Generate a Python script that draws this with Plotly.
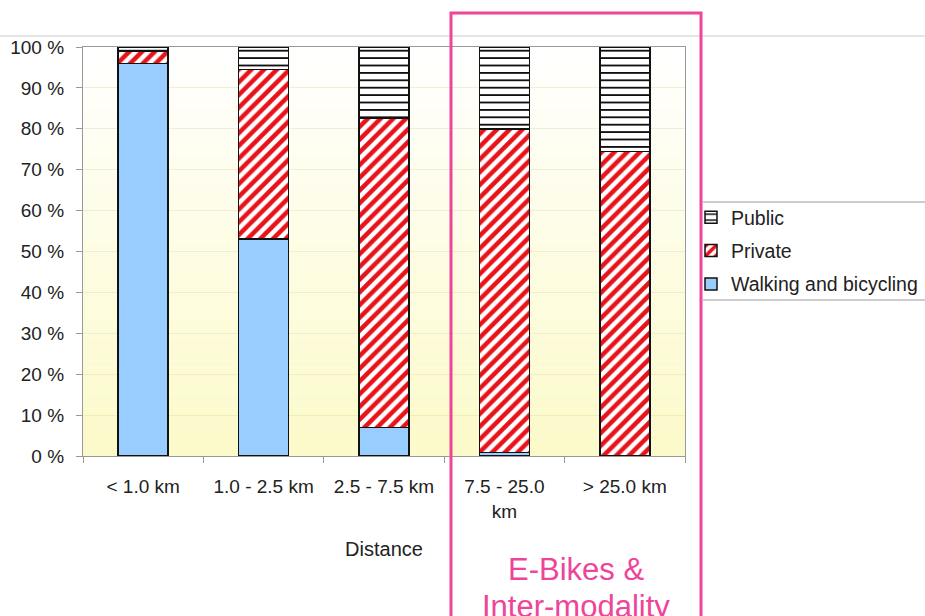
import plotly.graph_objects as go

# Share of trips by mode for each distance band (percent)
distances = ["< 1.0 km", "1.0 - 2.5 km", "2.5 - 7.5 km", "7.5 - 25.0<br>km", "> 25.0 km"]
walking = [96.0, 53.0, 7.0, 0.8, 0.0]
private = [3.0, 41.5, 75.5, 79.2, 74.5]
public = [1.0, 5.5, 17.5, 20.0, 25.5]

W, H = 925, 616
ML, MR, MT, MB = 83, 240, 47, 160
PW, PH = W - ML - MR, H - MT - MB


def px(x):
    return (x - ML) / PW


def py(y):
    return (H - MB - y) / PH


FONT = "Liberation Sans, Arial, Helvetica, sans-serif"
TXT = "#222222"
PINK = "#ee4499"

fig = go.Figure()

fig.add_bar(
    x=distances, y=walking, name="Walking and bicycling",
    legendgroup="w", legendrank=3,
    marker=dict(color="#99ccff", line=dict(color="#111111", width=1.5)),
)
fig.add_bar(
    x=distances, y=private, name="Private",
    legendgroup="p", legendrank=2,
    marker=dict(
        color="#ffffff",
        line=dict(color="#111111", width=1.5),
        pattern=dict(shape="/", fgcolor="#e8121a", bgcolor="#ffffff",
                     size=9, solidity=0.5, fillmode="replace"),
    ),
)
fig.add_bar(
    x=distances, y=public, name="Public",
    legendgroup="u", legendrank=1,
    marker=dict(
        color="#ffffff",
        line=dict(color="#111111", width=1.5),
        pattern=dict(shape="-", fgcolor="#111111", bgcolor="#ffffff",
                     size=7.4, solidity=0.25, fillmode="replace"),
    ),
)

shapes = []
# soft white-to-cream gradient behind the bars
N = 60
c0 = (255, 255, 255)
c1 = (252, 250, 200)
for i in range(N):
    t = (i + 0.5) / N
    r = round(c0[0] + (c1[0] - c0[0]) * t)
    g = round(c0[1] + (c1[1] - c0[1]) * t)
    b = round(c0[2] + (c1[2] - c0[2]) * t)
    shapes.append(dict(
        type="rect", xref="paper", yref="paper", layer="below",
        x0=0, x1=1, y0=1 - (i + 1) / N, y1=1 - i / N,
        fillcolor=f"rgb({r},{g},{b})", line=dict(width=0),
    ))

# thin rule across the top of the slide
shapes.append(dict(type="line", xref="paper", yref="paper",
                   x0=px(0), x1=px(W), y0=py(36), y1=py(36),
                   line=dict(color="#cccccc", width=1.2)))
# legend frame rules
for yy in (202, 300):
    shapes.append(dict(type="line", xref="paper", yref="paper",
                       x0=px(703), x1=px(W), y0=py(yy), y1=py(yy),
                       line=dict(color="#bbbbbb", width=1.5)))
# highlight box around the long-distance bands
shapes.append(dict(type="rect", xref="paper", yref="paper",
                   x0=px(451), x1=px(701), y0=py(640), y1=py(13),
                   line=dict(color=PINK, width=3), fillcolor="rgba(0,0,0,0)"))

annotations = [
    dict(text="E-Bikes &", xref="paper", yref="paper", x=px(576), y=py(569),
         xanchor="center", yanchor="middle", showarrow=False,
         font=dict(family=FONT, size=31, color=PINK)),
    dict(text="Inter-modality", xref="paper", yref="paper", x=px(576), y=py(606),
         xanchor="center", yanchor="middle", showarrow=False,
         font=dict(family=FONT, size=31, color=PINK)),
]

fig.update_layout(
    width=W, height=H,
    margin=dict(l=ML, r=MR, t=MT, b=MB, pad=0, autoexpand=False),
    barmode="stack",
    bargap=0.585,
    paper_bgcolor="#ffffff",
    plot_bgcolor="#ffffff",
    font=dict(family=FONT, size=19, color=TXT),
    shapes=shapes,
    annotations=annotations,
    legend=dict(
        x=px(691), y=py(198), xanchor="left", yanchor="top",
        traceorder="grouped", tracegroupgap=5,
        font=dict(family=FONT, size=19.5, color=TXT),
        bgcolor="rgba(0,0,0,0)",
    ),
    xaxis=dict(
        type="category", range=[-0.5, 4.5],
        showline=True, linecolor="#999999", linewidth=1.2, mirror=True,
        ticks="outside", tickson="boundaries", ticklen=6,
        tickcolor="#999999", tickwidth=1.2,
        ticklabelstandoff=13,
        tickfont=dict(family=FONT, size=19, color=TXT),
        title=dict(text="Distance", standoff=21,
                   font=dict(family=FONT, size=20, color=TXT)),
        showgrid=False,
    ),
    yaxis=dict(
        range=[0, 100], tickmode="linear", tick0=0, dtick=10, ticksuffix=" %",
        showline=True, linecolor="#999999", linewidth=1.2, mirror=True,
        ticks="outside", ticklen=6, tickcolor="#999999", tickwidth=1.2,
        ticklabelstandoff=8,
        tickfont=dict(family=FONT, size=19, color=TXT),
        showgrid=True, gridcolor="rgba(225,220,175,0.45)", gridwidth=1,
        zeroline=False,
    ),
)

fig.write_html("out.html")
